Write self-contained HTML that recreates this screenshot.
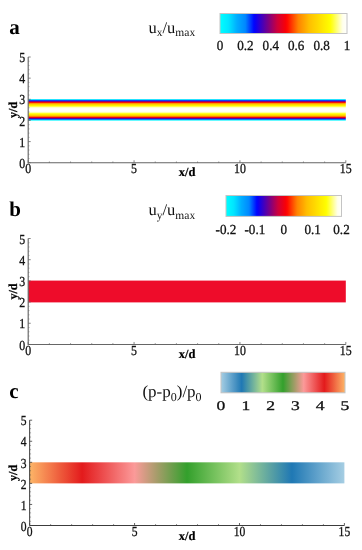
<!DOCTYPE html>
<html><head><meta charset="utf-8"><title>Figure</title>
<style>
html,body{margin:0;padding:0;background:#fff;}
body{width:362px;height:550px;overflow:hidden;}
svg{display:block;font-family:"Liberation Serif",serif;text-rendering:geometricPrecision;}
</style></head><body>
<svg width="362" height="550" viewBox="0 0 362 550">
<rect width="362" height="550" fill="#fff"/>
<defs><linearGradient id="gA" x1="0" y1="0" x2="1" y2="0"><stop offset="0.0000" stop-color="#00ffff"/><stop offset="0.0167" stop-color="#00f9ff"/><stop offset="0.0333" stop-color="#00f2ff"/><stop offset="0.0500" stop-color="#00ecff"/><stop offset="0.0667" stop-color="#00e5ff"/><stop offset="0.0833" stop-color="#00d8ff"/><stop offset="0.1000" stop-color="#00caff"/><stop offset="0.1167" stop-color="#00bbff"/><stop offset="0.1333" stop-color="#00adff"/><stop offset="0.1500" stop-color="#00a4ff"/><stop offset="0.1667" stop-color="#009aff"/><stop offset="0.1833" stop-color="#0091ff"/><stop offset="0.2000" stop-color="#0087ff"/><stop offset="0.2167" stop-color="#0067ff"/><stop offset="0.2333" stop-color="#0047ff"/><stop offset="0.2500" stop-color="#0027ff"/><stop offset="0.2667" stop-color="#0006ff"/><stop offset="0.2833" stop-color="#0f00f0"/><stop offset="0.3000" stop-color="#2100de"/><stop offset="0.3167" stop-color="#3400cb"/><stop offset="0.3333" stop-color="#4600b9"/><stop offset="0.3500" stop-color="#5900a7"/><stop offset="0.3667" stop-color="#6c0094"/><stop offset="0.3833" stop-color="#7e0082"/><stop offset="0.4000" stop-color="#920070"/><stop offset="0.4167" stop-color="#a6005f"/><stop offset="0.4333" stop-color="#b9004d"/><stop offset="0.4500" stop-color="#cd003c"/><stop offset="0.4667" stop-color="#d8002f"/><stop offset="0.4833" stop-color="#e30021"/><stop offset="0.5000" stop-color="#ee0014"/><stop offset="0.5167" stop-color="#f90007"/><stop offset="0.5333" stop-color="#ff0c00"/><stop offset="0.5500" stop-color="#ff2400"/><stop offset="0.5667" stop-color="#ff3c00"/><stop offset="0.5833" stop-color="#ff5400"/><stop offset="0.6000" stop-color="#ff6c00"/><stop offset="0.6167" stop-color="#ff8300"/><stop offset="0.6333" stop-color="#ff8f00"/><stop offset="0.6500" stop-color="#ff9b00"/><stop offset="0.6667" stop-color="#ffa600"/><stop offset="0.6833" stop-color="#ffb200"/><stop offset="0.7000" stop-color="#ffbe00"/><stop offset="0.7167" stop-color="#ffc400"/><stop offset="0.7333" stop-color="#ffcb00"/><stop offset="0.7500" stop-color="#ffd100"/><stop offset="0.7667" stop-color="#ffd700"/><stop offset="0.7833" stop-color="#ffde00"/><stop offset="0.8000" stop-color="#ffe400"/><stop offset="0.8167" stop-color="#ffeb00"/><stop offset="0.8333" stop-color="#fff100"/><stop offset="0.8500" stop-color="#fff700"/><stop offset="0.8667" stop-color="#fffe00"/><stop offset="0.8833" stop-color="#ffff21"/><stop offset="0.9000" stop-color="#ffff4a"/><stop offset="0.9167" stop-color="#ffff73"/><stop offset="0.9333" stop-color="#ffff9d"/><stop offset="0.9500" stop-color="#ffffc6"/><stop offset="0.9667" stop-color="#ffffec"/><stop offset="0.9833" stop-color="#fffff5"/><stop offset="1.0000" stop-color="#ffffff"/></linearGradient><linearGradient id="gC" x1="0" y1="0" x2="1" y2="0"><stop offset="0.0000" stop-color="#a6cee3"/><stop offset="0.0167" stop-color="#98c5de"/><stop offset="0.0333" stop-color="#8bbdda"/><stop offset="0.0500" stop-color="#7eb4d5"/><stop offset="0.0667" stop-color="#70acd0"/><stop offset="0.0833" stop-color="#62a3cc"/><stop offset="0.1000" stop-color="#559ac7"/><stop offset="0.1167" stop-color="#4892c2"/><stop offset="0.1333" stop-color="#3a89bd"/><stop offset="0.1500" stop-color="#2d81b9"/><stop offset="0.1667" stop-color="#1f78b4"/><stop offset="0.1833" stop-color="#2e82b0"/><stop offset="0.2000" stop-color="#3c8dac"/><stop offset="0.2167" stop-color="#4b97a7"/><stop offset="0.2333" stop-color="#5aa1a3"/><stop offset="0.2500" stop-color="#68ac9f"/><stop offset="0.2667" stop-color="#77b69b"/><stop offset="0.2833" stop-color="#86c097"/><stop offset="0.3000" stop-color="#95ca92"/><stop offset="0.3167" stop-color="#a3d58e"/><stop offset="0.3333" stop-color="#b2df8a"/><stop offset="0.3500" stop-color="#a5d981"/><stop offset="0.3667" stop-color="#99d277"/><stop offset="0.3833" stop-color="#8ccc6e"/><stop offset="0.4000" stop-color="#7fc664"/><stop offset="0.4167" stop-color="#72c05b"/><stop offset="0.4333" stop-color="#66b952"/><stop offset="0.4500" stop-color="#59b348"/><stop offset="0.4667" stop-color="#4cad3f"/><stop offset="0.4833" stop-color="#40a635"/><stop offset="0.5000" stop-color="#33a02c"/><stop offset="0.5167" stop-color="#479f37"/><stop offset="0.5333" stop-color="#5b9f42"/><stop offset="0.5500" stop-color="#6f9e4d"/><stop offset="0.5667" stop-color="#839e58"/><stop offset="0.5833" stop-color="#979d62"/><stop offset="0.6000" stop-color="#ab9c6d"/><stop offset="0.6167" stop-color="#bf9c78"/><stop offset="0.6333" stop-color="#d39b83"/><stop offset="0.6500" stop-color="#e79b8e"/><stop offset="0.6667" stop-color="#fb9a99"/><stop offset="0.6833" stop-color="#f98d8d"/><stop offset="0.7000" stop-color="#f68080"/><stop offset="0.7167" stop-color="#f47474"/><stop offset="0.7333" stop-color="#f16767"/><stop offset="0.7500" stop-color="#ef5a5a"/><stop offset="0.7667" stop-color="#ed4d4e"/><stop offset="0.7833" stop-color="#ea4041"/><stop offset="0.8000" stop-color="#e83435"/><stop offset="0.8167" stop-color="#e52728"/><stop offset="0.8333" stop-color="#e31a1c"/><stop offset="0.8500" stop-color="#e62a24"/><stop offset="0.8667" stop-color="#e8392b"/><stop offset="0.8833" stop-color="#eb4933"/><stop offset="0.9000" stop-color="#ed583a"/><stop offset="0.9167" stop-color="#f06842"/><stop offset="0.9333" stop-color="#f3784a"/><stop offset="0.9500" stop-color="#f58751"/><stop offset="0.9667" stop-color="#f89759"/><stop offset="0.9833" stop-color="#faa660"/><stop offset="1.0000" stop-color="#fdb668"/></linearGradient><linearGradient id="gCr" x1="0" y1="0" x2="1" y2="0"><stop offset="0.0000" stop-color="#fdb668"/><stop offset="0.0167" stop-color="#faa660"/><stop offset="0.0333" stop-color="#f89759"/><stop offset="0.0500" stop-color="#f58751"/><stop offset="0.0667" stop-color="#f3784a"/><stop offset="0.0833" stop-color="#f06842"/><stop offset="0.1000" stop-color="#ed583a"/><stop offset="0.1167" stop-color="#eb4933"/><stop offset="0.1333" stop-color="#e8392b"/><stop offset="0.1500" stop-color="#e62a24"/><stop offset="0.1667" stop-color="#e31a1c"/><stop offset="0.1833" stop-color="#e52728"/><stop offset="0.2000" stop-color="#e83435"/><stop offset="0.2167" stop-color="#ea4041"/><stop offset="0.2333" stop-color="#ed4d4e"/><stop offset="0.2500" stop-color="#ef5a5a"/><stop offset="0.2667" stop-color="#f16767"/><stop offset="0.2833" stop-color="#f47474"/><stop offset="0.3000" stop-color="#f68080"/><stop offset="0.3167" stop-color="#f98d8d"/><stop offset="0.3333" stop-color="#fb9a99"/><stop offset="0.3500" stop-color="#e79b8e"/><stop offset="0.3667" stop-color="#d39b83"/><stop offset="0.3833" stop-color="#bf9c78"/><stop offset="0.4000" stop-color="#ab9c6d"/><stop offset="0.4167" stop-color="#979d62"/><stop offset="0.4333" stop-color="#839e58"/><stop offset="0.4500" stop-color="#6f9e4d"/><stop offset="0.4667" stop-color="#5b9f42"/><stop offset="0.4833" stop-color="#479f37"/><stop offset="0.5000" stop-color="#33a02c"/><stop offset="0.5167" stop-color="#40a635"/><stop offset="0.5333" stop-color="#4cad3f"/><stop offset="0.5500" stop-color="#59b348"/><stop offset="0.5667" stop-color="#66b952"/><stop offset="0.5833" stop-color="#72c05b"/><stop offset="0.6000" stop-color="#7fc664"/><stop offset="0.6167" stop-color="#8ccc6e"/><stop offset="0.6333" stop-color="#99d277"/><stop offset="0.6500" stop-color="#a5d981"/><stop offset="0.6667" stop-color="#b2df8a"/><stop offset="0.6833" stop-color="#a3d58e"/><stop offset="0.7000" stop-color="#95ca92"/><stop offset="0.7167" stop-color="#86c097"/><stop offset="0.7333" stop-color="#77b69b"/><stop offset="0.7500" stop-color="#68ac9f"/><stop offset="0.7667" stop-color="#5aa1a3"/><stop offset="0.7833" stop-color="#4b97a7"/><stop offset="0.8000" stop-color="#3c8dac"/><stop offset="0.8167" stop-color="#2e82b0"/><stop offset="0.8333" stop-color="#1f78b4"/><stop offset="0.8500" stop-color="#2c81b9"/><stop offset="0.8667" stop-color="#3a89bd"/><stop offset="0.8833" stop-color="#4792c2"/><stop offset="0.9000" stop-color="#559ac7"/><stop offset="0.9167" stop-color="#62a3cc"/><stop offset="0.9333" stop-color="#70acd0"/><stop offset="0.9500" stop-color="#7db4d5"/><stop offset="0.9667" stop-color="#8bbdda"/><stop offset="0.9833" stop-color="#98c5de"/><stop offset="1.0000" stop-color="#a6cee3"/></linearGradient><linearGradient id="gBand" x1="0" y1="0" x2="0" y2="1"><stop offset="0.0000" stop-color="#00ffff"/><stop offset="0.0250" stop-color="#00ccff"/><stop offset="0.0500" stop-color="#008dff"/><stop offset="0.0750" stop-color="#0800f7"/><stop offset="0.1000" stop-color="#64009c"/><stop offset="0.1250" stop-color="#be0049"/><stop offset="0.1500" stop-color="#f5000c"/><stop offset="0.1750" stop-color="#ff4c00"/><stop offset="0.2000" stop-color="#ff9400"/><stop offset="0.2250" stop-color="#ffbc00"/><stop offset="0.2500" stop-color="#ffd100"/><stop offset="0.2750" stop-color="#ffe300"/><stop offset="0.3000" stop-color="#fff400"/><stop offset="0.3250" stop-color="#ffff13"/><stop offset="0.3500" stop-color="#ffff63"/><stop offset="0.3750" stop-color="#ffffa7"/><stop offset="0.4000" stop-color="#ffffdf"/><stop offset="0.4250" stop-color="#fffff2"/><stop offset="0.4500" stop-color="#fffff9"/><stop offset="0.4750" stop-color="#fffffe"/><stop offset="0.5000" stop-color="#ffffff"/><stop offset="0.5250" stop-color="#fffffe"/><stop offset="0.5500" stop-color="#fffff9"/><stop offset="0.5750" stop-color="#fffff2"/><stop offset="0.6000" stop-color="#ffffdf"/><stop offset="0.6250" stop-color="#ffffa7"/><stop offset="0.6500" stop-color="#ffff63"/><stop offset="0.6750" stop-color="#ffff13"/><stop offset="0.7000" stop-color="#fff400"/><stop offset="0.7250" stop-color="#ffe300"/><stop offset="0.7500" stop-color="#ffd100"/><stop offset="0.7750" stop-color="#ffbc00"/><stop offset="0.8000" stop-color="#ff9400"/><stop offset="0.8250" stop-color="#ff4c00"/><stop offset="0.8500" stop-color="#f5000c"/><stop offset="0.8750" stop-color="#be0049"/><stop offset="0.9000" stop-color="#64009c"/><stop offset="0.9250" stop-color="#0800f7"/><stop offset="0.9500" stop-color="#008dff"/><stop offset="0.9750" stop-color="#00ccff"/><stop offset="1.0000" stop-color="#00ffff"/></linearGradient></defs>
<rect x="28.20" y="99.15" width="317.60" height="21.45" fill="url(#gBand)"/><path d="M28.20 57.00V162.75H345.80" fill="none" stroke="#666666" stroke-width="1.15"/><path d="M28.20 158.52h1.4M28.20 154.29h1.4M28.20 150.06h1.4M28.20 145.83h1.4M28.20 137.37h1.4M28.20 133.14h1.4M28.20 128.91h1.4M28.20 124.68h1.4M28.20 116.22h1.4M28.20 111.99h1.4M28.20 107.76h1.4M28.20 103.53h1.4M28.20 95.07h1.4M28.20 90.84h1.4M28.20 86.61h1.4M28.20 82.38h1.4M28.20 73.92h1.4M28.20 69.69h1.4M28.20 65.46h1.4M28.20 61.23h1.4" fill="none" stroke="#666666" stroke-width="0.6" opacity="0.7"/><path d="M28.20 162.75v-2.50M49.37 162.75v-1.20M70.55 162.75v-1.20M91.72 162.75v-1.20M112.89 162.75v-1.20M134.07 162.75v-2.50M155.24 162.75v-1.20M176.41 162.75v-1.20M197.59 162.75v-1.20M218.76 162.75v-1.20M239.93 162.75v-2.50M261.11 162.75v-1.20M282.28 162.75v-1.20M303.45 162.75v-1.20M324.63 162.75v-1.20M345.80 162.75v-2.50M28.20 162.75h2.50M28.20 141.60h2.50M28.20 120.45h2.50M28.20 99.30h2.50M28.20 78.15h2.50M28.20 57.00h2.50" fill="none" stroke="#666666" stroke-width="0.8"/><text transform="translate(28.20 173.10) scale(0.86 1)" font-size="13.8" text-anchor="middle" fill="#111" stroke="#111" stroke-width="0.3">0</text><text transform="translate(134.07 173.10) scale(0.86 1)" font-size="13.8" text-anchor="middle" fill="#111" stroke="#111" stroke-width="0.3">5</text><text transform="translate(239.93 173.10) scale(0.86 1)" font-size="13.8" text-anchor="middle" fill="#111" stroke="#111" stroke-width="0.3">10</text><text transform="translate(345.80 173.10) scale(0.86 1)" font-size="13.8" text-anchor="middle" fill="#111" stroke="#111" stroke-width="0.3">15</text><text transform="translate(25.20 167.85) scale(0.86 1)" font-size="13.8" text-anchor="end" fill="#111" stroke="#111" stroke-width="0.3">0</text><text transform="translate(25.20 146.70) scale(0.86 1)" font-size="13.8" text-anchor="end" fill="#111" stroke="#111" stroke-width="0.3">1</text><text transform="translate(25.20 125.55) scale(0.86 1)" font-size="13.8" text-anchor="end" fill="#111" stroke="#111" stroke-width="0.3">2</text><text transform="translate(25.20 104.40) scale(0.86 1)" font-size="13.8" text-anchor="end" fill="#111" stroke="#111" stroke-width="0.3">3</text><text transform="translate(25.20 83.25) scale(0.86 1)" font-size="13.8" text-anchor="end" fill="#111" stroke="#111" stroke-width="0.3">4</text><text transform="translate(25.20 62.10) scale(0.86 1)" font-size="13.8" text-anchor="end" fill="#111" stroke="#111" stroke-width="0.3">5</text><text x="187.00" y="176.45" font-size="12.5" font-weight="bold" text-anchor="middle" fill="#000" stroke="#000" stroke-width="0.2">x/d</text><text transform="translate(16.50 109.88) rotate(-90)" font-size="12.2" font-weight="bold" text-anchor="middle" fill="#000" stroke="#000" stroke-width="0.25">y/d</text><text x="9.3" y="33.70" font-size="21" font-weight="bold" fill="#000">a</text><text x="148.50" y="32.80" font-size="16.5" fill="#111">u<tspan font-size="11.5" dy="3.5">x</tspan><tspan dy="-3.5">/u</tspan><tspan font-size="11.5" dy="3.5">max</tspan></text><rect x="220.00" y="13.50" width="127.00" height="20.00" fill="url(#gA)" stroke="#c4c4c4" stroke-width="1"/><text transform="translate(220.00 50.20) scale(0.95 1)" font-size="13.8" text-anchor="middle" fill="#111" stroke="#111" stroke-width="0.3">0</text><text transform="translate(245.40 50.20) scale(0.95 1)" font-size="13.8" text-anchor="middle" fill="#111" stroke="#111" stroke-width="0.3">0.2</text><text transform="translate(270.80 50.20) scale(0.95 1)" font-size="13.8" text-anchor="middle" fill="#111" stroke="#111" stroke-width="0.3">0.4</text><text transform="translate(296.20 50.20) scale(0.95 1)" font-size="13.8" text-anchor="middle" fill="#111" stroke="#111" stroke-width="0.3">0.6</text><text transform="translate(321.60 50.20) scale(0.95 1)" font-size="13.8" text-anchor="middle" fill="#111" stroke="#111" stroke-width="0.3">0.8</text><text transform="translate(347.00 50.20) scale(0.95 1)" font-size="13.8" text-anchor="middle" fill="#111" stroke="#111" stroke-width="0.3">1</text><rect x="28.20" y="280.59" width="317.60" height="21.80" fill="#ee0c2a"/><path d="M28.20 238.50V344.48H345.80" fill="none" stroke="#666666" stroke-width="1.15"/><path d="M28.20 340.24h1.4M28.20 336.00h1.4M28.20 331.76h1.4M28.20 327.52h1.4M28.20 319.04h1.4M28.20 314.81h1.4M28.20 310.57h1.4M28.20 306.33h1.4M28.20 297.85h1.4M28.20 293.61h1.4M28.20 289.37h1.4M28.20 285.13h1.4M28.20 276.65h1.4M28.20 272.41h1.4M28.20 268.17h1.4M28.20 263.94h1.4M28.20 255.46h1.4M28.20 251.22h1.4M28.20 246.98h1.4M28.20 242.74h1.4" fill="none" stroke="#666666" stroke-width="0.6" opacity="0.7"/><path d="M28.20 344.48v-2.50M49.37 344.48v-1.20M70.55 344.48v-1.20M91.72 344.48v-1.20M112.89 344.48v-1.20M134.07 344.48v-2.50M155.24 344.48v-1.20M176.41 344.48v-1.20M197.59 344.48v-1.20M218.76 344.48v-1.20M239.93 344.48v-2.50M261.11 344.48v-1.20M282.28 344.48v-1.20M303.45 344.48v-1.20M324.63 344.48v-1.20M345.80 344.48v-2.50M28.20 344.48h2.50M28.20 323.28h2.50M28.20 302.09h2.50M28.20 280.89h2.50M28.20 259.70h2.50M28.20 238.50h2.50" fill="none" stroke="#666666" stroke-width="0.8"/><text transform="translate(28.20 354.83) scale(0.86 1)" font-size="13.8" text-anchor="middle" fill="#111" stroke="#111" stroke-width="0.3">0</text><text transform="translate(134.07 354.83) scale(0.86 1)" font-size="13.8" text-anchor="middle" fill="#111" stroke="#111" stroke-width="0.3">5</text><text transform="translate(239.93 354.83) scale(0.86 1)" font-size="13.8" text-anchor="middle" fill="#111" stroke="#111" stroke-width="0.3">10</text><text transform="translate(345.80 354.83) scale(0.86 1)" font-size="13.8" text-anchor="middle" fill="#111" stroke="#111" stroke-width="0.3">15</text><text transform="translate(25.20 349.58) scale(0.86 1)" font-size="13.8" text-anchor="end" fill="#111" stroke="#111" stroke-width="0.3">0</text><text transform="translate(25.20 328.38) scale(0.86 1)" font-size="13.8" text-anchor="end" fill="#111" stroke="#111" stroke-width="0.3">1</text><text transform="translate(25.20 307.19) scale(0.86 1)" font-size="13.8" text-anchor="end" fill="#111" stroke="#111" stroke-width="0.3">2</text><text transform="translate(25.20 285.99) scale(0.86 1)" font-size="13.8" text-anchor="end" fill="#111" stroke="#111" stroke-width="0.3">3</text><text transform="translate(25.20 264.80) scale(0.86 1)" font-size="13.8" text-anchor="end" fill="#111" stroke="#111" stroke-width="0.3">4</text><text transform="translate(25.20 243.60) scale(0.86 1)" font-size="13.8" text-anchor="end" fill="#111" stroke="#111" stroke-width="0.3">5</text><text x="187.00" y="358.18" font-size="12.5" font-weight="bold" text-anchor="middle" fill="#000" stroke="#000" stroke-width="0.2">x/d</text><text transform="translate(16.50 291.49) rotate(-90)" font-size="12.2" font-weight="bold" text-anchor="middle" fill="#000" stroke="#000" stroke-width="0.25">y/d</text><text x="9.3" y="215.80" font-size="21" font-weight="bold" fill="#000">b</text><text x="148.50" y="215.20" font-size="16.5" fill="#111">u<tspan font-size="11.5" dy="3.5">y</tspan><tspan dy="-3.5">/u</tspan><tspan font-size="11.5" dy="3.5">max</tspan></text><rect x="226.00" y="195.50" width="115.50" height="20.90" fill="url(#gA)" stroke="#c4c4c4" stroke-width="1"/><text transform="translate(226.00 233.70) scale(0.95 1)" font-size="13.8" text-anchor="middle" fill="#111" stroke="#111" stroke-width="0.3">-0.2</text><text transform="translate(254.88 233.70) scale(0.95 1)" font-size="13.8" text-anchor="middle" fill="#111" stroke="#111" stroke-width="0.3">-0.1</text><text transform="translate(283.75 233.70) scale(0.95 1)" font-size="13.8" text-anchor="middle" fill="#111" stroke="#111" stroke-width="0.3">0</text><text transform="translate(312.62 233.70) scale(0.95 1)" font-size="13.8" text-anchor="middle" fill="#111" stroke="#111" stroke-width="0.3">0.1</text><text transform="translate(341.50 233.70) scale(0.95 1)" font-size="13.8" text-anchor="middle" fill="#111" stroke="#111" stroke-width="0.3">0.2</text><rect x="29.65" y="462.32" width="314.75" height="21.06" fill="url(#gCr)"/><path d="M29.65 420.20V525.50H344.40" fill="none" stroke="#3c3c3c" stroke-width="1"/><path d="M29.65 521.29h1.4M29.65 517.08h1.4M29.65 512.86h1.4M29.65 508.65h1.4M29.65 500.23h1.4M29.65 496.02h1.4M29.65 491.80h1.4M29.65 487.59h1.4M29.65 479.17h1.4M29.65 474.96h1.4M29.65 470.74h1.4M29.65 466.53h1.4M29.65 458.11h1.4M29.65 453.90h1.4M29.65 449.68h1.4M29.65 445.47h1.4M29.65 437.05h1.4M29.65 432.84h1.4M29.65 428.62h1.4M29.65 424.41h1.4" fill="none" stroke="#3c3c3c" stroke-width="0.6" opacity="0.7"/><path d="M29.65 525.50v-2.50M50.63 525.50v-1.20M71.62 525.50v-1.20M92.60 525.50v-1.20M113.58 525.50v-1.20M134.57 525.50v-2.50M155.55 525.50v-1.20M176.53 525.50v-1.20M197.52 525.50v-1.20M218.50 525.50v-1.20M239.48 525.50v-2.50M260.47 525.50v-1.20M281.45 525.50v-1.20M302.43 525.50v-1.20M323.42 525.50v-1.20M344.40 525.50v-2.50M29.65 525.50h2.50M29.65 504.44h2.50M29.65 483.38h2.50M29.65 462.32h2.50M29.65 441.26h2.50M29.65 420.20h2.50" fill="none" stroke="#3c3c3c" stroke-width="0.8"/><text transform="translate(29.65 535.70) scale(0.84 1)" font-size="13.8" text-anchor="middle" fill="#111" stroke="#111" stroke-width="0.3">0</text><text transform="translate(134.57 535.70) scale(0.84 1)" font-size="13.8" text-anchor="middle" fill="#111" stroke="#111" stroke-width="0.3">5</text><text transform="translate(239.48 535.70) scale(0.84 1)" font-size="13.8" text-anchor="middle" fill="#111" stroke="#111" stroke-width="0.3">10</text><text transform="translate(344.40 535.70) scale(0.84 1)" font-size="13.8" text-anchor="middle" fill="#111" stroke="#111" stroke-width="0.3">15</text><text transform="translate(26.65 530.70) scale(0.84 1)" font-size="13.8" text-anchor="end" fill="#111" stroke="#111" stroke-width="0.3">0</text><text transform="translate(26.65 509.64) scale(0.84 1)" font-size="13.8" text-anchor="end" fill="#111" stroke="#111" stroke-width="0.3">1</text><text transform="translate(26.65 488.58) scale(0.84 1)" font-size="13.8" text-anchor="end" fill="#111" stroke="#111" stroke-width="0.3">2</text><text transform="translate(26.65 467.52) scale(0.84 1)" font-size="13.8" text-anchor="end" fill="#111" stroke="#111" stroke-width="0.3">3</text><text transform="translate(26.65 446.46) scale(0.84 1)" font-size="13.8" text-anchor="end" fill="#111" stroke="#111" stroke-width="0.3">4</text><text transform="translate(26.65 425.40) scale(0.84 1)" font-size="13.8" text-anchor="end" fill="#111" stroke="#111" stroke-width="0.3">5</text><text x="187.02" y="539.70" font-size="12.5" font-weight="bold" text-anchor="middle" fill="#000" stroke="#000" stroke-width="0.2">x/d</text><text transform="translate(17.15 472.85) rotate(-90)" font-size="12.2" font-weight="bold" text-anchor="middle" fill="#000" stroke="#000" stroke-width="0.25">y/d</text><text x="9.3" y="398.00" font-size="21" font-weight="bold" fill="#000">c</text><text x="142.40" y="397.40" font-size="17" fill="#111">(p-p<tspan font-size="12" dy="3.5">0</tspan><tspan dy="-3.5">)/p</tspan><tspan font-size="12" dy="3.5">0</tspan></text><rect x="221.00" y="372.30" width="124.00" height="20.50" fill="url(#gC)" stroke="#c4c4c4" stroke-width="1"/><text transform="translate(221.00 410.00) scale(1.32 1)" font-size="13.3" text-anchor="middle" fill="#111" stroke="#111" stroke-width="0.3">0</text><text transform="translate(245.80 410.00) scale(1.32 1)" font-size="13.3" text-anchor="middle" fill="#111" stroke="#111" stroke-width="0.3">1</text><text transform="translate(270.60 410.00) scale(1.32 1)" font-size="13.3" text-anchor="middle" fill="#111" stroke="#111" stroke-width="0.3">2</text><text transform="translate(295.40 410.00) scale(1.32 1)" font-size="13.3" text-anchor="middle" fill="#111" stroke="#111" stroke-width="0.3">3</text><text transform="translate(320.20 410.00) scale(1.32 1)" font-size="13.3" text-anchor="middle" fill="#111" stroke="#111" stroke-width="0.3">4</text><text transform="translate(345.00 410.00) scale(1.32 1)" font-size="13.3" text-anchor="middle" fill="#111" stroke="#111" stroke-width="0.3">5</text>
</svg>
</body></html>
